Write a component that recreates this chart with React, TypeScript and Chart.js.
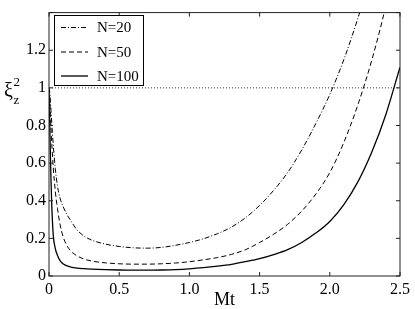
import React, { useEffect, useRef } from "react";
import { Chart, registerables } from "chart.js";

Chart.register(...registerables);

const tValues = [0, 0.005, 0.01, 0.015, 0.02, 0.03, 0.045, 0.06, 0.08, 0.1, 0.125, 0.15, 0.2, 0.25, 0.3, 0.4, 0.5, 0.6, 0.7, 0.8, 0.9, 1.0, 1.1, 1.2, 1.3, 1.4, 1.5, 1.6, 1.7, 1.8, 1.9, 2.0, 2.1, 2.2, 2.3, 2.4, 2.5];

const xiN20 = [1.0, 0.98, 0.93, 0.87, 0.81, 0.70, 0.57, 0.48, 0.41, 0.37, 0.33, 0.30, 0.245, 0.212, 0.192, 0.17, 0.157, 0.15, 0.148, 0.152, 0.163, 0.178, 0.198, 0.225, 0.26, 0.31, 0.375, 0.455, 0.55, 0.67, 0.81, 0.965, 1.15, 1.37, 1.62, 1.9, 2.2];

const xiN50 = [1.0, 0.95, 0.86, 0.77, 0.70, 0.58, 0.45, 0.36, 0.27, 0.21, 0.165, 0.137, 0.107, 0.09, 0.08, 0.07, 0.065, 0.063, 0.063, 0.065, 0.069, 0.076, 0.086, 0.098, 0.115, 0.14, 0.178, 0.222, 0.275, 0.345, 0.435, 0.55, 0.71, 0.91, 1.15, 1.44, 1.8];

const xiN100 = [1.0, 0.82, 0.64, 0.49, 0.37, 0.22, 0.145, 0.11, 0.08, 0.065, 0.055, 0.049, 0.042, 0.039, 0.037, 0.034, 0.032, 0.031, 0.031, 0.032, 0.034, 0.038, 0.044, 0.052, 0.062, 0.076, 0.092, 0.114, 0.14, 0.178, 0.228, 0.29, 0.38, 0.5, 0.66, 0.86, 1.11];

const refX = [0, 2.5];
const refY = [1, 1];

const xTicks = [0, 0.5, 1, 1.5, 2, 2.5];
const yTicks = [0, 0.2, 0.4, 0.6, 0.8, 1, 1.2, 1.4];
const yTickLabels = ["0", "0.2", "0.4", "0.6", "0.8", "1", "1.2", ""];

const seriesLabels = ["N=20", "N=50", "N=100"];
const seriesDashes: number[][] = [[5, 2, 1, 2], [5, 3], []];
const seriesWidths = [1, 1, 1.3];

const SERIF = '"Liberation Serif", "Times New Roman", serif';

const pts = (xs: number[], ys: number[]) => xs.map((x, i) => ({ x, y: ys[i] }));

const decorPlugin = {
  id: "decor",
  afterDraw(chart: any) {
    const { ctx, chartArea, scales } = chart;
    const { left, right, top, bottom } = chartArea;
    ctx.save();
    ctx.strokeStyle = "#222";
    ctx.lineWidth = 1;
    ctx.setLineDash([]);
    ctx.strokeRect(left, top, right - left, bottom - top);
    const tl = 4;
    ctx.beginPath();
    xTicks.forEach((v) => {
      const px = scales.x.getPixelForValue(v);
      ctx.moveTo(px, bottom);
      ctx.lineTo(px, bottom - tl);
      ctx.moveTo(px, top);
      ctx.lineTo(px, top + tl);
    });
    yTicks.forEach((v) => {
      const py = scales.y.getPixelForValue(v);
      ctx.moveTo(left, py);
      ctx.lineTo(left + tl, py);
      ctx.moveTo(right, py);
      ctx.lineTo(right - tl, py);
    });
    ctx.stroke();

    // legend
    const bx = 54.5, by = 15.5, bw = 89, bh = 70;
    ctx.fillStyle = "#fff";
    ctx.fillRect(bx, by, bw, bh);
    ctx.strokeStyle = "#000";
    ctx.strokeRect(bx, by, bw, bh);
    const rows = [27.5, 52, 76];
    ctx.font = `15px ${SERIF}`;
    ctx.textBaseline = "middle";
    ctx.textAlign = "left";
    ctx.fillStyle = "#000";
    seriesLabels.forEach((lab, i) => {
      ctx.beginPath();
      ctx.setLineDash(seriesDashes[i]);
      ctx.lineWidth = seriesWidths[i];
      ctx.moveTo(61, rows[i]);
      ctx.lineTo(88, rows[i]);
      ctx.stroke();
      ctx.setLineDash([]);
      ctx.fillText(lab, 97, rows[i] + 1);
    });

    // axis titles
    ctx.textBaseline = "alphabetic";
    ctx.font = `18px ${SERIF}`;
    ctx.textAlign = "center";
    ctx.fillText("Mt", (left + right) / 2, 305);
    ctx.textAlign = "left";
    ctx.font = `20px ${SERIF}`;
    ctx.fillText("ξ", 4, 97);
    ctx.font = `13px ${SERIF}`;
    ctx.fillText("2", 13.5, 86);
    ctx.fillText("z", 13.5, 104);
    ctx.restore();
  },
};

export default function App() {
  const ref = useRef<HTMLCanvasElement | null>(null);
  useEffect(() => {
    document.body.style.margin = "0";
    const canvas = ref.current;
    if (!canvas) return;
    const chart = new Chart(canvas, {
      type: "line",
      data: {
        datasets: [
          {
            label: "ref",
            data: pts(refX, refY),
            borderColor: "#333",
            borderWidth: 1,
            borderDash: [1, 2],
            pointRadius: 0,
            tension: 0,
          },
          ...[xiN20, xiN50, xiN100].map((ys, i) => ({
            label: seriesLabels[i],
            data: pts(tValues, ys),
            borderColor: "#000",
            borderWidth: seriesWidths[i],
            borderDash: seriesDashes[i],
            pointRadius: 0,
            cubicInterpolationMode: "monotone" as const,
          })),
        ],
      },
      options: {
        animation: false,
        responsive: false,
        maintainAspectRatio: false,
        layout: { padding: { left: 0, top: 12, right: 15, bottom: 0 } },
        plugins: { legend: { display: false }, tooltip: { enabled: false } },
        scales: {
          x: {
            type: "linear",
            min: 0,
            max: 2.5,
            afterFit: (s: any) => { s.height = 33; },
            afterBuildTicks: (s: any) => { s.ticks = xTicks.map((v) => ({ value: v })); },
            grid: { display: false, drawTicks: false },
            border: { display: false },
            ticks: {
              padding: 4,
              color: "#000",
              font: { family: SERIF, size: 16 },
              maxRotation: 0,
              autoSkip: false,
            },
          },
          y: {
            type: "linear",
            min: 0,
            max: 1.4,
            afterFit: (s: any) => { s.width = 49; },
            afterBuildTicks: (s: any) => { s.ticks = yTicks.map((v) => ({ value: v })); },
            grid: { display: false, drawTicks: false },
            border: { display: false },
            ticks: {
              padding: 3,
              color: "#000",
              font: { family: SERIF, size: 16 },
              autoSkip: false,
              callback: (v: any) => {
                const i = yTicks.findIndex((t) => Math.abs(t - Number(v)) < 1e-6);
                return i >= 0 ? yTickLabels[i] : "";
              },
            },
          },
        },
      },
      plugins: [decorPlugin],
    });
    return () => chart.destroy();
  }, []);
  return (
    <div style={{ width: 415, height: 309 }}>
      <canvas ref={ref} width={415} height={309} style={{ width: 415, height: 309, display: "block" }} />
    </div>
  );
}
